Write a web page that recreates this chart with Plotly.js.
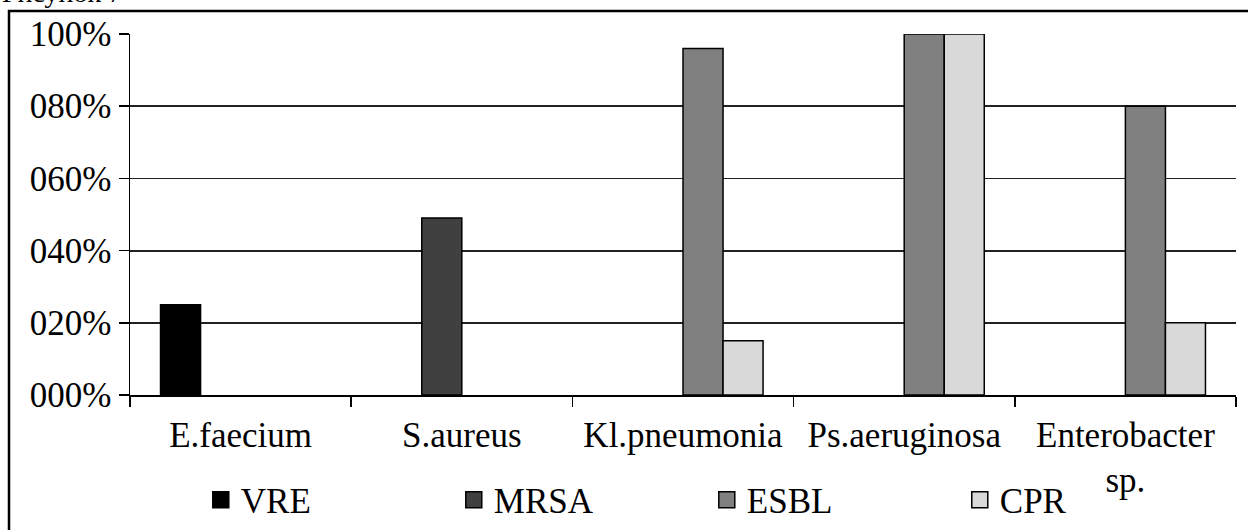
<!DOCTYPE html>
<html>
<head>
<meta charset="utf-8">
<script src="https://cdn.plot.ly/plotly-3.0.1.min.js"></script>
<style>html,body{margin:0;padding:0;background:#fff;}#chart{width:1248px;height:530px;}</style>
</head>
<body>
<div id="chart"></div>
<script>
var categories = ["E.faecium", "S.aureus", "Kl.pneumonia", "Ps.aeruginosa", "Enterobacter<br>sp."];
var seriesNames = ["VRE", "MRSA", "ESBL", "CPR"];
var VRE  = [25, null, null, null, null];
var MRSA = [null, 49, null, null, null];
var ESBL = [null, null, 96, 100, 80];
var CPR  = [null, null, 15, 100, 20];
var tickVals = [0, 20, 40, 60, 80, 100];
var tickText = ["000%", "020%", "040%", "060%", "080%", "100%"];
var figureLabel = "Рисунок 7";

var colors = ["#000000", "#404040", "#808080", "#d9d9d9"];
var values = [VRE, MRSA, ESBL, CPR];
var FONT = "Liberation Serif, Times New Roman, serif";

var traces = seriesNames.map(function (n, i) {
  return {
    type: "bar", name: n, x: categories, y: values[i], legendgroup: n, showlegend: false,
    marker: {color: colors[i], line: {color: "#000", width: 1.5}},
    hoverinfo: "x+y+name"
  };
});
// legend entries (larger square symbols), no data drawn
seriesNames.forEach(function (n, i) {
  traces.push({type: "scatter", mode: "markers", name: n, legendgroup: n, x: [null], y: [null],
               marker: {symbol: "square", size: 20, color: colors[i], line: {color: "#000", width: 1.5}}});
});

var layout = {
  width: 1248, height: 530,
  margin: {l: 130, r: 12, t: 34, b: 135, autoexpand: false},
  paper_bgcolor: "#fff", plot_bgcolor: "#fff",
  font: {family: FONT, size: 35, color: "#000"},
  barmode: "group", bargap: 0.276, bargroupgap: 0,
  showlegend: true,
  legend: {orientation: "h", x: 0.064, xanchor: "left", y: -0.291, yanchor: "middle",
           entrywidth: 208, entrywidthmode: "pixels", traceorder: "normal",
           font: {family: FONT, size: 35}, itemwidth: 30, bgcolor: "rgba(0,0,0,0)"},
  xaxis: {type: "category", showgrid: false, showline: true, linecolor: "#000", linewidth: 1.5,
          ticks: "outside", tickson: "boundaries", ticklen: 10, tickcolor: "#000", tickwidth: 1.5,
          ticklabelstandoff: 8, tickfont: {family: FONT, size: 35}, zeroline: false, fixedrange: true},
  yaxis: {range: [0, 100], tickvals: tickVals, ticktext: tickText, showgrid: true,
          gridcolor: "#222", gridwidth: 1.8, showline: true, linecolor: "#000", linewidth: 1.5,
          ticks: "outside", ticklen: 10, tickcolor: "#000", tickwidth: 1.5,
          tickfont: {family: FONT, size: 35}, zeroline: false, fixedrange: true},
  shapes: [{type: "rect", xref: "paper", yref: "paper", x0: -0.1094, x1: 1.05, y0: -0.6, y1: 1.0637,
            line: {color: "#000", width: 2.5}, fillcolor: "rgba(0,0,0,0)"}],
  annotations: [{text: figureLabel, xref: "paper", yref: "paper", x: -0.1175, y: 1.067,
                 xanchor: "left", yanchor: "bottom", showarrow: false,
                 font: {family: FONT, size: 28, color: "#000"}}]
};

Plotly.newPlot("chart", traces, layout, {displayModeBar: false, staticPlot: true});
</script>
</body>
</html>
